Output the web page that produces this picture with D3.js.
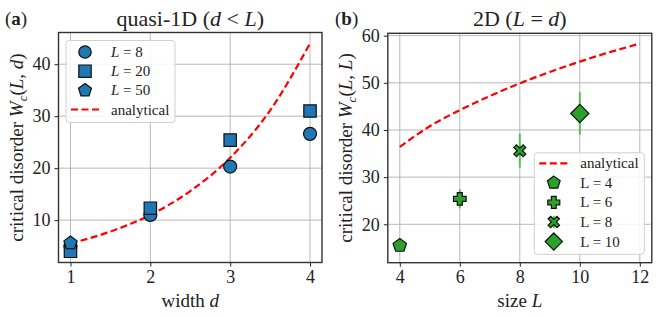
<!DOCTYPE html>
<html>
<head>
<meta charset="utf-8">
<script src="https://cdn.jsdelivr.net/npm/d3@7"></script>
<style>
  body { margin: 0; background: #fff; }
  svg text { font-family: "Liberation Serif", "DejaVu Serif", serif; fill: #222; }
</style>
</head>
<body>
<svg id="fig" width="664" height="317"></svg>
<script>
// ---- panel (a): quasi-1D ----
const widths = [1, 2, 3, 4];
const wcL8 = [5.0, 11.0, 20.3, 26.6];
const wcL20 = [4.0, 12.3, 25.4, 31.0];
const wcL50 = [5.6];
const analyticD = [1, 1.5, 2, 2.5, 3, 3.5, 4];
const analyticW1 = [5.5, 7.8, 11.0, 15.6, 22.0, 31.1, 44.0];
const ticksA_x = [1, 2, 3, 4];
const ticksA_y = [10, 20, 30, 40];

// ---- panel (b): 2D ----
const sizes = [4, 6, 8, 10];
const wc2D = [15.5, 25.4, 35.6, 43.5];
const wc2DErr = [0.4, 2.0, 3.6, 4.5];
const sizeLabels = ["L = 4", "L = 6", "L = 8", "L = 10"];
const analyticL = [4, 5, 6, 7, 8, 9, 10, 11, 12];
const analyticW2 = [36.4, 40.8, 44.2, 47.2, 49.9, 52.3, 54.5, 56.5, 58.3];
const ticksB_x = [4, 6, 8, 10, 12];
const ticksB_y = [20, 30, 40, 50, 60];

const blue = "#1f77b4", green = "#2ca02c";
const svg = d3.select("#fig");

function pentPath(r) {
    let pts = [];
    for (let i = 0; i < 5; i++) {
        let a = -Math.PI / 2 + i * 2 * Math.PI / 5;
        pts.push([r * Math.cos(a), r * Math.sin(a)]);
    }
    return "M" + pts.map(p => p.join(",")).join("L") + "Z";
}
function markerPath(kind, s) {
    if (kind === "circle") return d3.symbol().type(d3.symbolCircle).size(Math.PI * s * s)();
    if (kind === "square") return `M${-s},${-s}H${s}V${s}H${-s}Z`;
    if (kind === "pentagon") return pentPath(s * 1.1);
    if (kind === "plus") {
        let a = s, b = s * 0.4;
        return `M${-b},${-a}H${b}V${-b}H${a}V${b}H${b}V${a}H${-b}V${b}H${-a}V${-b}H${-b}Z`;
    }
    if (kind === "x") {
        let a = s * 0.95, b = s * 0.42;
        let p = [[-b, 0], [-a, -a + b], [-a + b, -a], [0, -b], [a - b, -a], [a, -a + b], [b, 0], [a, a - b], [a - b, a], [0, b], [-a + b, a], [-a, a - b]];
        return "M" + p.map(q => q.join(",")).join("L") + "Z";
    }
    if (kind === "diamond") { let a = s * 1.3; return `M0,${-a}L${a},0L0,${a}L${-a},0Z`; }
}

function drawMarker(g, kind, x, y, fill, s) {
    g.append("path")
        .attr("d", markerPath(kind, s))
        .attr("transform", `translate(${x},${y})`)
        .attr("fill", fill)
        .attr("stroke", "#111")
        .attr("stroke-width", 1.2);
}

function drawFrame(g, x, y, width, height, xt, yt) {
    // grid
    g.selectAll("line.gx").data(xt).enter().append("line")
        .attr("x1", d => x(d)).attr("x2", d => x(d))
        .attr("y1", y.range()[0]).attr("y2", y.range()[1])
        .attr("stroke", "#b0b0b0").attr("stroke-width", 0.9);
    g.selectAll("line.gy").data(yt).enter().append("line")
        .attr("y1", d => y(d)).attr("y2", d => y(d))
        .attr("x1", 0).attr("x2", width)
        .attr("stroke", "#b0b0b0").attr("stroke-width", 0.9);
}

function drawAxes(g, x, y, width, height, xt, yt) {
    let xa = g.append("g").attr("transform", `translate(0,${height})`)
        .call(d3.axisBottom(x).tickValues(xt).tickSize(4).tickPadding(4).tickFormat(d3.format("d")));
    let ya = g.append("g")
        .call(d3.axisLeft(y).tickValues(yt).tickSize(4).tickPadding(4).tickFormat(d3.format("d")));
    [xa, ya].forEach(a => {
        a.select(".domain").remove();
        a.selectAll("line").attr("stroke", "#222").attr("stroke-width", 1);
        a.selectAll("text").style("font-size", "18px").attr("fill", "#222")
            .style("font-family", "Liberation Serif, serif");
    });
    g.append("rect").attr("width", width).attr("height", height)
        .attr("fill", "none").attr("stroke", "#333").attr("stroke-width", 1.4);
}

function yLabel(x, y, last) {
    let yl = svg.append("text").attr("transform", `translate(${x},${y}) rotate(-90)`)
        .attr("text-anchor", "middle").style("font-size", "19px");
    yl.append("tspan").text("critical disorder ");
    yl.append("tspan").style("font-style", "italic").text("W");
    yl.append("tspan").style("font-style", "italic").style("font-size", "13px").attr("dy", 4).text("c");
    yl.append("tspan").attr("dy", -4).text("(");
    yl.append("tspan").style("font-style", "italic").text("L");
    yl.append("tspan").text(", ");
    yl.append("tspan").style("font-style", "italic").text(last);
    yl.append("tspan").text(")");
}

// ================= panel (a) =================
{
    const left = 58.5, top = 32.5, width = 263.5, height = 230;
    const g = svg.append("g").attr("transform", `translate(${left},${top})`);
    const x = d3.scaleLinear().domain([0.85, 4.15]).range([0, width]);
    const y = d3.scaleLinear().domain([1.85, 46.1]).range([height, 0]);
    drawFrame(g, x, y, width, height, ticksA_x, ticksA_y);

    const line = d3.line().x((d, i) => x(analyticD[i])).y(d => y(d)).curve(d3.curveMonotoneX);
    g.append("path").datum(analyticW1).attr("d", line)
        .attr("fill", "none").attr("stroke", "#ff0000").attr("stroke-width", 2.2)
        .attr("stroke-dasharray", "7,3.5");

    wcL8.forEach((v, i) => drawMarker(g, "circle", x(widths[i]), y(v), blue, 6.5));
    wcL20.forEach((v, i) => drawMarker(g, "square", x(widths[i]), y(v), blue, 6.2));
    wcL50.forEach((v, i) => drawMarker(g, "pentagon", x(widths[i]), y(v), blue, 6.3));
    drawAxes(g, x, y, width, height, ticksA_x, ticksA_y);

    // legend
    const lg = g.append("g").attr("transform", "translate(7.5,8)");
    lg.append("rect").attr("width", 109).attr("height", 82).attr("rx", 3)
        .attr("fill", "white").attr("fill-opacity", 0.85).attr("stroke", "#d0d0d0");
    const items = [["circle", "8"], ["square", "20"], ["pentagon", "50"]];
    items.forEach((it, i) => {
        let yy = 11.5 + i * 19.2;
        drawMarker(lg, it[0], 19, yy, blue, 6.2);
        let t = lg.append("text").attr("x", 45).attr("y", yy + 5).style("font-size", "15px");
        t.append("tspan").style("font-style", "italic").text("L");
        t.append("tspan").text(" = " + it[1]);
    });
    lg.append("line").attr("x1", 5).attr("x2", 33).attr("y1", 69).attr("y2", 69)
        .attr("stroke", "#ff0000").attr("stroke-width", 2.2).attr("stroke-dasharray", "7,3.5");
    lg.append("text").attr("x", 45).attr("y", 74).style("font-size", "15px").text("analytical");

    // labels
    let xl = svg.append("text").attr("x", left + width / 2).attr("y", 307)
        .attr("text-anchor", "middle").style("font-size", "19px");
    xl.append("tspan").text("width ");
    xl.append("tspan").style("font-style", "italic").text("d");

    yLabel(23, top + height / 2, "d");

    let tt = svg.append("text").attr("x", left + width / 2).attr("y", 26)
        .attr("text-anchor", "middle").style("font-size", "22px");
    tt.append("tspan").text("quasi-1D (");
    tt.append("tspan").style("font-style", "italic").text("d");
    tt.append("tspan").text(" < ");
    tt.append("tspan").style("font-style", "italic").text("L");
    tt.append("tspan").text(")");

    let pa = svg.append("text").attr("x", 5).attr("y", 25).style("font-size", "19px");
    pa.append("tspan").text("(");
    pa.append("tspan").style("font-weight", "bold").text("a");
    pa.append("tspan").text(")");
}

// ================= panel (b) =================
{
    const left = 387.8, top = 33.3, width = 264, height = 229.4;
    const g = svg.append("g").attr("transform", `translate(${left},${top})`);
    const x = d3.scaleLinear().domain([3.6, 12.4]).range([0, width]);
    const y = d3.scaleLinear().domain([11.86, 60.5]).range([height, 0]);
    drawFrame(g, x, y, width, height, ticksB_x, ticksB_y);

    const line = d3.line().x((d, i) => x(analyticL[i])).y(d => y(d)).curve(d3.curveMonotoneX);
    g.append("path").datum(analyticW2).attr("d", line)
        .attr("fill", "none").attr("stroke", "#ff0000").attr("stroke-width", 2.2)
        .attr("stroke-dasharray", "7,3.5");

    const kinds = ["pentagon", "plus", "x", "diamond"];
    const sz = [6.4, 6.3, 6.3, 7.0];
    wc2D.forEach((v, i) => {
        g.append("line")
            .attr("x1", x(sizes[i])).attr("x2", x(sizes[i]))
            .attr("y1", y(v - wc2DErr[i])).attr("y2", y(v + wc2DErr[i]))
            .attr("stroke", "#5cbf5c").attr("stroke-width", 2);
    });
    wc2D.forEach((v, i) => drawMarker(g, kinds[i], x(sizes[i]), y(v), green, sz[i]));
    drawAxes(g, x, y, width, height, ticksB_x, ticksB_y);

    // legend
    const lg = g.append("g").attr("transform", "translate(146.5,119.5)");
    lg.append("rect").attr("width", 110).attr("height", 101.5).attr("rx", 3)
        .attr("fill", "white").attr("fill-opacity", 0.85).attr("stroke", "#d0d0d0");
    lg.append("line").attr("x1", 5).attr("x2", 33).attr("y1", 10.5).attr("y2", 10.5)
        .attr("stroke", "#ff0000").attr("stroke-width", 2.2).attr("stroke-dasharray", "7,3.5");
    lg.append("text").attr("x", 46).attr("y", 15.5).style("font-size", "15px").text("analytical");
    sizeLabels.forEach((s, i) => {
        let yy = 30 + i * 19.6;
        lg.append("line").attr("x1", 19.5).attr("x2", 19.5).attr("y1", yy - 6).attr("y2", yy + 6)
            .attr("stroke", "#5cbf5c").attr("stroke-width", 2);
        drawMarker(lg, kinds[i], 19.5, yy, green, sz[i] * 0.95);
        lg.append("text").attr("x", 46).attr("y", yy + 5).style("font-size", "15px").text(s);
    });

    let xl = svg.append("text").attr("x", left + width / 2).attr("y", 307)
        .attr("text-anchor", "middle").style("font-size", "19px");
    xl.append("tspan").text("size ");
    xl.append("tspan").style("font-style", "italic").text("L");

    yLabel(352, top + height / 2, "L");

    let tt = svg.append("text").attr("x", left + width / 2).attr("y", 26)
        .attr("text-anchor", "middle").style("font-size", "22px");
    tt.append("tspan").text("2D (");
    tt.append("tspan").style("font-style", "italic").text("L");
    tt.append("tspan").text(" = ");
    tt.append("tspan").style("font-style", "italic").text("d");
    tt.append("tspan").text(")");

    let pb = svg.append("text").attr("x", 335).attr("y", 25).style("font-size", "19px");
    pb.append("tspan").text("(");
    pb.append("tspan").style("font-weight", "bold").text("b");
    pb.append("tspan").text(")");
}
</script>
</body>
</html>
